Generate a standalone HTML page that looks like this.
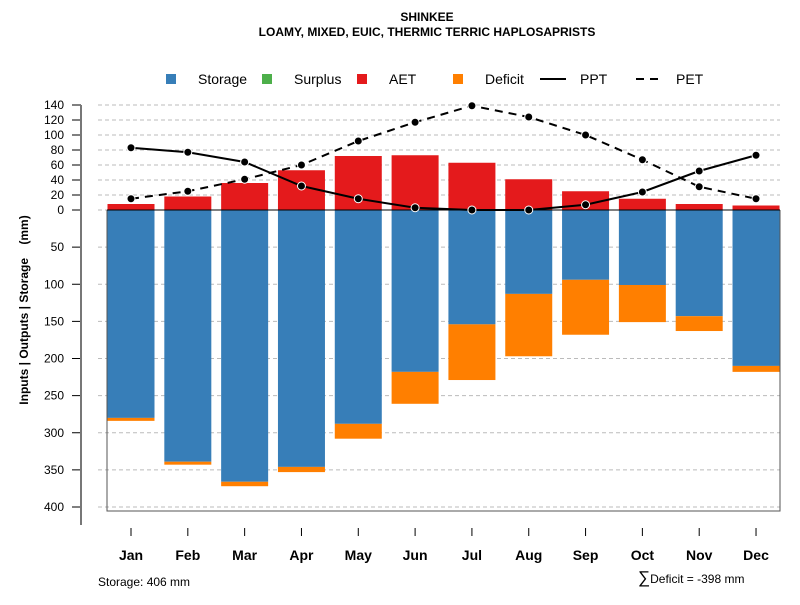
<!DOCTYPE html>
<html><head><meta charset="utf-8"><style>
body{margin:0;background:#fff}
svg text{font-family:"Liberation Sans",sans-serif}
</style></head><body>
<svg id="c" width="800" height="600" xmlns="http://www.w3.org/2000/svg">
<text x="427" y="21" font-size="12" font-weight="bold" text-anchor="middle">SHINKEE</text>
<text x="427" y="36" font-size="12" font-weight="bold" text-anchor="middle">LOAMY, MIXED, EUIC, THERMIC TERRIC HAPLOSAPRISTS</text>
<g id="legend">
<rect x="166" y="74" width="10" height="10" fill="#377eb8"/>
<text x="198" y="84" font-size="14">Storage</text>
<rect x="262" y="74" width="10" height="10" fill="#4daf4a"/>
<text x="294" y="84" font-size="14">Surplus</text>
<rect x="357" y="74" width="10" height="10" fill="#e41a1c"/>
<text x="389" y="84" font-size="14">AET</text>
<rect x="453" y="74" width="10" height="10" fill="#ff7f00"/>
<text x="485" y="84" font-size="14">Deficit</text>
<line x1="540" y1="79" x2="566" y2="79" stroke="#000" stroke-width="2"/>
<text x="580" y="84" font-size="14">PPT</text>
<line x1="636" y1="79" x2="662" y2="79" stroke="#000" stroke-width="2" stroke-dasharray="8,6"/>
<text x="676" y="84" font-size="14">PET</text>
</g>
<text transform="translate(28,310) rotate(-90)" font-size="12" font-weight="bold" text-anchor="middle" style="white-space:pre">Inputs | Outputs | Storage    (mm)</text>
<text x="98" y="586" font-size="12">Storage: 406 mm</text>
<text x="638" y="583" font-size="12"><tspan font-size="17">∑</tspan>Deficit = -398 mm</text>
</svg>
<script>
const months=["Jan","Feb","Mar","Apr","May","Jun","Jul","Aug","Sep","Oct","Nov","Dec"];
const aet=[8,18,36,53,72,73,63,41,25,15,8,6];
const storage=[280,339,366,346,288,218,154,113,94,101,143,210];
const deficit=[4,4,6,7,20,43,75,84,74,50,20,8];
const ppt=[83,77,64,32,15,3,0,0,7,24,52,73];
const pet=[15,25,41,60,92,117,139,124,100,67,31,15];
const posTicks=[0,20,40,60,80,100,120,140];
const negTicks=[50,100,150,200,250,300,350,400];
const NS="http://www.w3.org/2000/svg";
const svg=document.getElementById('c');
function y(v){return v>=0?210-v*0.75:210-v*0.7425;}
function x(i){return 131+i*56.82;}
function mk(t,a,p){const e=document.createElementNS(NS,t);for(const k in a)e.setAttribute(k,a[k]);(p||svg).appendChild(e);return e;}
const g=mk('g',{});


const yt=posTicks.map(v=>v).concat(negTicks.map(v=>-v));
yt.forEach(v=>{
 const yy=y(v);
 const gl=mk('line',{x1:98,x2:780,y1:yy,y2:yy,stroke:'#bbb','stroke-dasharray':'4,3'},g);
 
 
 mk('line',{x1:72,x2:81,y1:yy,y2:yy,stroke:'#000'},g);
 const t=mk('text',{x:64,y:yy+4,'font-size':12,'text-anchor':'end'},g);
 t.textContent=Math.abs(v);
 
 
});
mk('line',{x1:81,x2:81,y1:y(140),y2:525,stroke:'#777','stroke-width':2},g);
mk('polyline',{points:`107,210 107,511 780,511 780,210`,fill:'none',stroke:'#555'},g);
months.forEach((m,i)=>{
 const cx=x(i),w=47,l=cx-w/2;
 const r1=mk('rect',{x:l,y:y(aet[i]),width:w,height:y(0)-y(aet[i]),fill:'#e41a1c'},g);
 
 
 const r2=mk('rect',{x:l,y:y(0),width:w,height:y(-storage[i])-y(0),fill:'#377eb8'},g);
 
 
 const r3=mk('rect',{x:l,y:y(-storage[i]),width:w,height:y(-storage[i]-deficit[i])-y(-storage[i]),fill:'#ff7f00'},g);
 
 
 mk('line',{x1:cx,x2:cx,y1:528,y2:536,stroke:'#000'},g);
 const t=mk('text',{x:cx,y:560,'font-size':14,'font-weight':'bold','text-anchor':'middle'},g);
 t.textContent=m;
 
 
});
mk('line',{x1:107,x2:780,y1:210,y2:210,stroke:'#000'},g);
function series(d,dash,name){
 const p=mk('polyline',{points:d.map((v,i)=>x(i)+','+y(v)).join(' '),fill:'none',stroke:'#000','stroke-width':2,'stroke-dasharray':dash},g);
 
 
 d.forEach((v,i)=>{
  const c=mk('circle',{cx:x(i),cy:y(v),r:4,fill:'#000',stroke:'#fff','stroke-width':1},g);
  
  
 });
}
series(ppt,'none','ppt');
series(pet,'8,6','pet');
</script>
</body></html>
